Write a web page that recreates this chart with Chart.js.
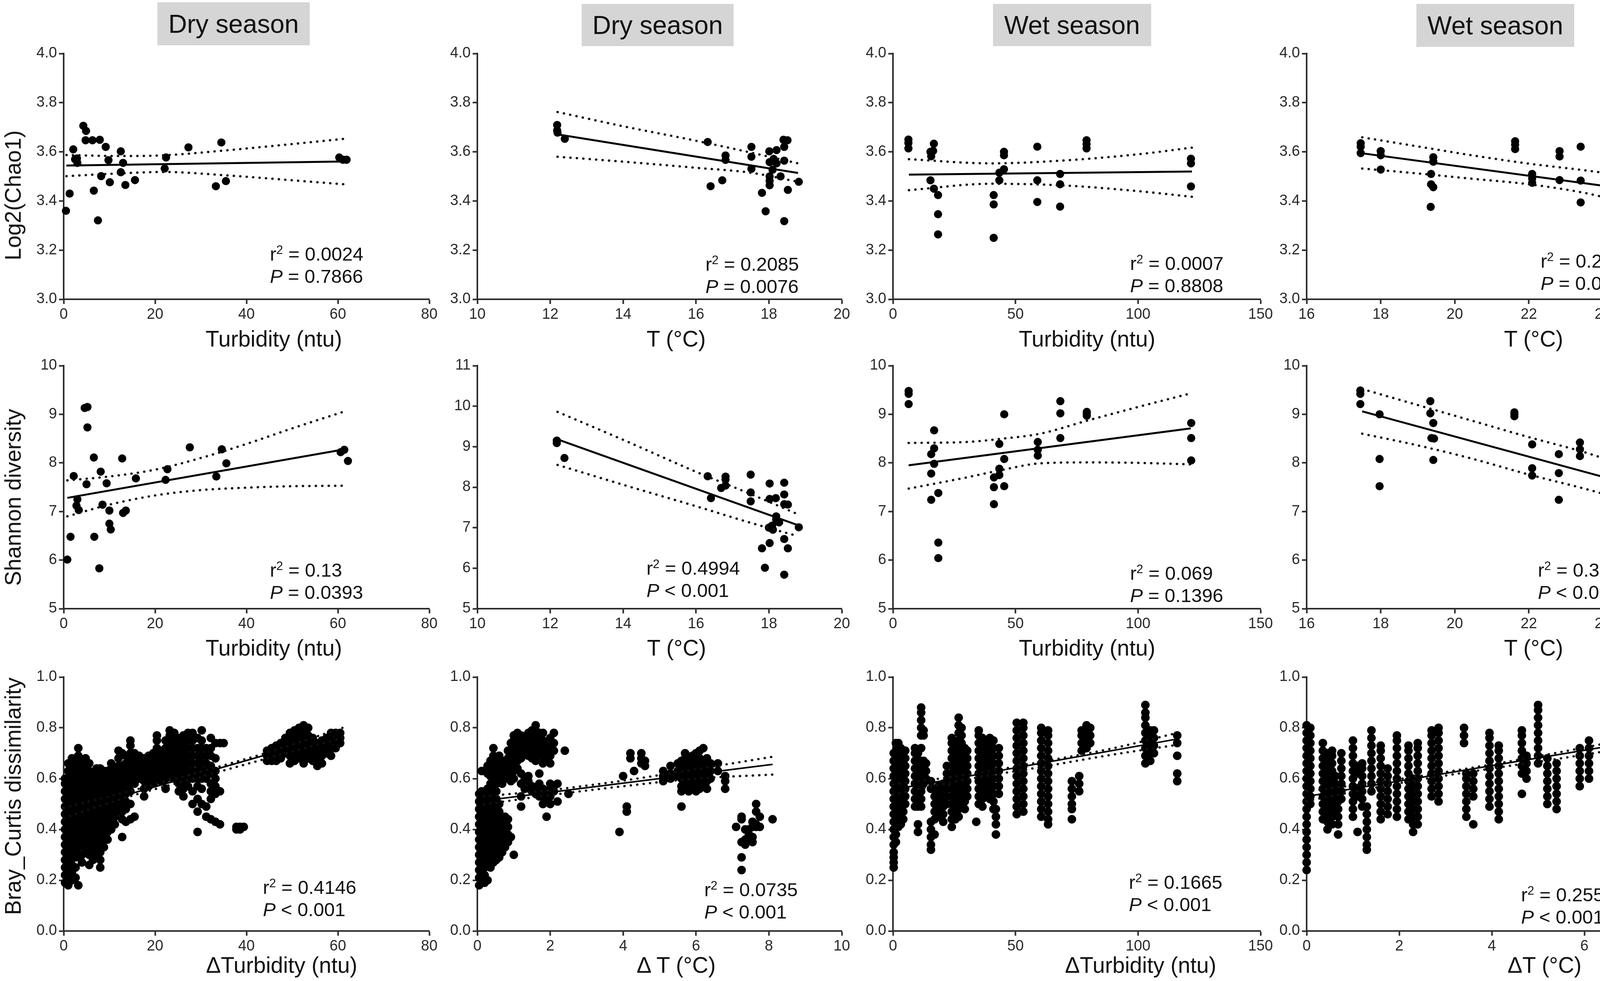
<!DOCTYPE html>
<html>
<head>
<meta charset="utf-8">
<title>Diversity vs turbidity and temperature</title>
<script src="https://cdn.jsdelivr.net/npm/chart.js@4.4.1/dist/chart.umd.min.js"></script>
<style>
  body { margin: 0; background: #fff; }
  #page { position: relative; width: 4328px; height: 2511px; overflow: hidden;
          font-family: "Liberation Sans", Arial, sans-serif; color: #111; }
  canvas { position: absolute; }
  .season { position: absolute; background: #d5d5d5; font-size: 66px; text-align: center; }
  .xt { position: absolute; font-size: 57px; white-space: nowrap; transform: translate(-50%, -50%); }
  .yt { position: absolute; font-size: 57px; white-space: nowrap; transform: translate(-50%, -50%) rotate(-90deg); }
  .stat { position: absolute; font-size: 49px; line-height: 57px; white-space: nowrap; }
  .stat sup { font-size: 31px; line-height: 0; }
</style>
</head>
<body>
<div id="page"></div>
<script>
// ---------- data ----------
// row 1: Log2(Chao1)
const chaoDryTurbX = [0.5,1.3,2.1,2.5,2.9,3.0,4.3,4.9,4.8,6.3,7.9,6.6,7.5,8.2,9.2,9.8,10.1,12.5,12.5,13.0,13.5,15.6,22.1,22.4,27.3,33.3,34.5,35.5,60.3,61.1,61.9];
const chaoDryTurbY = [3.36,3.43,3.61,3.57,3.573,3.555,3.706,3.685,3.647,3.647,3.649,3.442,3.321,3.501,3.62,3.566,3.476,3.602,3.517,3.555,3.465,3.485,3.532,3.577,3.618,3.46,3.638,3.481,3.577,3.568,3.568];
const chaoDryTempX = [12.19,12.19,12.2,12.4,16.32,16.4,16.72,16.81,16.81,17.52,17.52,17.52,17.81,17.91,18.01,18.02,18.02,18.02,18.1,18.13,18.21,18.21,18.32,18.42,18.42,18.4,18.51,18.42,18.52,18.82,18.02];
const chaoDryTempY = [3.709,3.687,3.678,3.653,3.64,3.46,3.484,3.585,3.567,3.62,3.58,3.531,3.433,3.358,3.602,3.558,3.482,3.464,3.527,3.571,3.607,3.553,3.5,3.62,3.564,3.649,3.647,3.318,3.445,3.478,3.5];
const chaoWetTurbX = [6.3,6.3,6.3,15.3,15.6,16.4,16.7,15.3,16.7,18.4,18.4,18.4,41.1,41.1,41.1,43.4,43.4,45.3,45.3,45.3,58.9,58.9,58.9,68.2,68.2,68.2,79,79,79,121.6,121.6,121.6];
const chaoWetTurbY = [3.65,3.636,3.614,3.6,3.582,3.604,3.633,3.484,3.45,3.424,3.346,3.264,3.424,3.386,3.25,3.515,3.484,3.6,3.586,3.529,3.621,3.484,3.396,3.51,3.468,3.377,3.647,3.631,3.614,3.572,3.553,3.459];
const chaoWetTempX = [17.46,17.46,17.46,18,18,18,19.36,19.36,19.42,19.35,19.42,19.42,21.63,21.63,21.63,22.09,22.09,22.09,22.83,22.83,22.83,23.4,23.4,23.4,24.07,24.07,24.07,24.46,24.51,24.44,24.46,24.53];
const chaoWetTempY = [3.635,3.621,3.595,3.603,3.586,3.528,3.51,3.468,3.456,3.376,3.578,3.56,3.643,3.629,3.611,3.51,3.492,3.474,3.603,3.581,3.485,3.621,3.483,3.394,3.634,3.605,3.452,3.425,3.39,3.345,3.265,3.25];

// row 2: Shannon diversity
const shanDryTurbX = [0.8,1.5,2.2,3.0,2.8,3.3,4.6,5.2,5.2,5.0,6.6,6.7,7.8,8.1,8.5,9.4,10.0,10.0,10.3,12.8,13.0,13.6,15.8,22.3,22.7,27.6,33.4,34.6,35.6,60.6,61.4,62.2];
const shanDryTurbY = [6.01,6.48,7.73,7.25,7.12,7.03,9.13,9.15,8.73,7.56,8.11,6.48,5.83,7.82,7.14,7.58,7.02,6.75,6.63,8.09,6.97,7.02,7.68,7.65,7.87,8.32,7.72,8.28,7.99,8.22,8.27,8.04];
const shanDryTempX = [12.18,12.18,12.39,16.32,16.41,16.69,16.81,16.81,16.81,17.5,17.5,17.5,17.81,17.89,18.02,18.02,18.02,18.0,18.09,18.11,18.2,18.2,18.19,18.28,18.42,18.42,18.42,18.42,18.42,18.52,18.52,18.82,18.06];
const shanDryTempY = [9.15,9.09,8.72,8.27,7.73,7.98,8.26,8.04,8.19,8.31,7.87,7.65,6.49,6.01,8.09,7.71,6.62,7.0,7.05,6.95,7.2,7.28,7.73,7.13,8.11,7.82,7.58,6.72,5.84,7.57,6.49,7.01,7.03];
const shanWetTurbX = [6.4,6.4,6.4,16.8,16.8,15.6,16.8,15.6,15.6,18.5,18.5,18.5,41.2,41.2,41.2,43.4,43.4,43.4,45.4,45.4,45.4,59.1,59.1,59.1,68.3,68.3,68.3,79.1,79.1,79.1,121.7,121.7,121.7];
const shanWetTurbY = [9.48,9.42,9.21,8.67,8.3,8.18,7.98,7.78,7.24,7.38,6.36,6.04,7.7,7.5,7.15,8.39,7.88,7.75,9.0,8.08,7.52,8.43,8.27,8.15,9.27,9.02,8.51,9.05,8.97,9.01,8.82,8.51,8.05];
const shanWetTempX = [17.45,17.45,17.45,17.97,17.97,17.97,19.34,19.34,19.42,19.37,19.44,19.42,21.61,21.61,21.61,22.09,22.09,22.09,22.81,22.81,22.81,23.38,23.38,23.38,24.06,24.06,24.06,24.47,24.47,24.41,24.47,24.41,24.41];
const shanWetTempY = [9.49,9.42,9.21,9.0,8.08,7.52,9.27,9.02,8.82,8.51,8.5,8.06,9.04,8.96,9.0,8.38,7.89,7.74,8.18,7.79,7.24,8.42,8.28,8.14,8.66,8.3,7.97,7.69,7.48,7.38,7.15,6.35,6.04];

// row 3: Bray_Curtis dissimilarity, one entry per column of dots: [x, y*100 ...]
const bcDryTurb = [
  [0.3,19,22,25,28,31,34,37,40,43,46,49,52,55,58,60],
  [1.0,18,21,24,27,30,33,36,39,42,45,48,51,54,57,60,63,66],
  [1.8,20,23,26,29,32,35,38,41,44,47,50,53,56,59,62,65,68],
  [2.6,21,25,29,32,35,38,41,44,47,50,53,56,59,62,65,68],
  [3.2,18,30,33,36,39,42,45,48,51,54,57,60,63,66,69,72],
  [4.0,27,30,34,37,40,43,46,49,52,55,58,61,64,67],
  [4.8,32,35,38,41,44,47,50,53,56,59,62,65,68],
  [5.6,26,30,33,36,39,42,45,48,51,54,57,60,63,66],
  [6.4,28,31,34,37,40,43,46,49,52,55,58,61],
  [7.2,29,32,35,38,41,44,47,50,53,56,59,62,64],
  [8.0,25,28,31,34,37,40,43,46,49,52,55,58,61,64],
  [8.8,33,36,39,42,45,48,51,54,57,60,63],
  [9.6,36,39,42,45,48,51,54,57,60,63],
  [10.4,40,43,46,49,52,55,58,61,64,66],
  [11.2,42,45,48,51,54,57,60,63],
  [12.0,47,50,53,56,59,62,65,68,71],
  [12.8,37,44,47,50,53,56,59,62,65,70],
  [13.6,43,48,51,54,57,60,63,66,69],
  [14.6,44,50,55,58,61,64,67,70,73,75],
  [15.5,45,58,61,64,67,70],
  [16.5,60,63,66,69],
  [17.6,53,56,59,62,65,68],
  [18.6,57,60,63,66,69],
  [19.6,58,61,64,67,70],
  [20.4,60,63,66,69,72,75,77],
  [21.4,59,62,65,68,71],
  [22.3,56,60,63,66,69,72,75],
  [23.2,62,65,68,71,74,77,79],
  [24.2,60,63,66,69,72,75,78],
  [25.2,55,58,61,64,67,70,73,76],
  [26.2,53,56,59,62,65,68,71,74,77],
  [27.2,57,60,63,66,69,72,75,78],
  [28.2,50,55,60,63,66,69,72,75,78],
  [29.3,39,47,52,57,60,63,66,69,72,76],
  [30.2,50,56,60,63,66,69,72,75,79],
  [31.2,45,49,60,63,66,69,72],
  [32.2,44,52,55,58,62,65,69,72,76],
  [33.2,43,54,57,60,63,68,74],
  [34.2,42,55,74],
  [35.0,74],
  [37.8,40,41],
  [38.6,40,41],
  [39.4,41],
  [44.5,67,69,71],
  [45.5,67,69,72],
  [46.5,67,70,73],
  [47.5,68,71,74],
  [48.5,70,73,76],
  [49.5,66,69,72,75,78],
  [50.5,67,70,73,76,79],
  [51.5,68,71,74,77,80],
  [52.5,66,69,72,75,78,81],
  [53.5,68,71,74,77,80],
  [54.5,67,70,73,76],
  [55.5,65,68,71,74],
  [56.5,66,69,72,75],
  [57.5,70,73,76],
  [58.5,69,72,75,78],
  [59.5,72,75,78],
  [60.5,74,76,78]
];
const bcDryTemp = [
  [0.05,18,21,24,27,30,33,36,39,42,45,48,51,54],
  [0.12,20,23,26,29,32,35,38,41,44,47,50,53,55,63],
  [0.2,19,22,25,28,31,34,37,40,43,46,49,52],
  [0.28,20,26,29,32,35,38,41,44,47,50,53,56,62,65],
  [0.36,25,28,31,34,37,40,43,46,49,52,55,58,61,64,67],
  [0.44,27,30,33,36,39,42,45,48,51,54,57,60,63,66,69,72],
  [0.52,28,31,34,37,40,43,46,49,52,55,58,61,64,67],
  [0.6,29,32,35,38,41,44,47,50,60,63,66,69],
  [0.68,31,34,37,40,43,58,61,64,67],
  [0.76,33,36,39,42,45,60,63,66],
  [0.84,35,38,41,44,62,65,68,71],
  [0.92,37,59,62,65,68,71,74],
  [1.0,30,60,63,66,69,72,75,77],
  [1.1,64,67,70,73,76,78],
  [1.2,49,53,58,62,68,71,74,77],
  [1.3,56,60,70,73,76],
  [1.4,59,61,69,72,75,78],
  [1.5,55,57,68,71,74,77,79],
  [1.6,54,56,67,70,73,76,79,81],
  [1.7,53,55,58,62,69,72,75,78],
  [1.8,50,53,56,66,69,72,75,78],
  [1.9,45,52,55,67,70,73],
  [2.0,50,53,56,58,66,69,72,76],
  [2.1,55,57,71,74,78],
  [2.2,51,58],
  [2.4,71],
  [2.5,54],
  [3.9,39],
  [4.0,61],
  [4.1,47,49],
  [4.2,68,70],
  [4.3,63],
  [4.5,66,68,70],
  [4.6,65,67],
  [5.1,59,61,63],
  [5.3,60,62,65],
  [5.5,61,63,66],
  [5.6,49,55,57,60,64,67],
  [5.7,56,59,62,65,68,70],
  [5.8,55,58,61,64,67],
  [5.9,57,60,63,66,69],
  [6.0,55,58,61,64,67,70],
  [6.1,56,59,62,65,68,71],
  [6.2,57,60,63,66,72],
  [6.3,56,59,62,65,68],
  [6.4,60,63,66],
  [6.6,63,66],
  [6.8,56,59,61],
  [7.1,41],
  [7.25,24,29,35,44,45],
  [7.35,34,36,40],
  [7.45,38,40],
  [7.55,35,37,41,43],
  [7.65,41,42,47,50],
  [7.75,41,45],
  [8.1,44]
];
const bcWetTurb = [
  [0.3,25,27,29,31,34,37,40,43,46,49,52,55,58,61,64,67,70],
  [1.2,35,38,41,44,47,50,53,56,59,62,65,68,71,74],
  [2.2,41,44,47,50,53,56,59,62,65,68,71,74],
  [3.2,42,45,48,51,54,57,60,63,66,69,72],
  [4.2,44,47,50,53,56,59,62,65,68,71],
  [5.0,50,53,56,59,62,65,68,71],
  [9.0,49,52,55,58,61,64,67,70,72],
  [10.2,39,42,49,52,55,58,61,64,67,70],
  [11.5,49,52,55,58,61,64,67,72,77,80,83,86,88],
  [12.5,58,61,64,67,77,79],
  [13.5,60,63,66],
  [15.5,32,34,37,40,43,56,59],
  [17.0,38,44,47,50,53,56],
  [18.5,45,48,51,54,57],
  [20.5,43,46,49,52,55,58],
  [22.0,50,53,56,59,62,65],
  [24.0,41,44,47,50,53,56,59,62,65,68,71,74,76],
  [25.5,44,47,50,53,56,59,62,65,68,71,74],
  [26.8,45,48,51,54,57,60,63,66,69,72,75,78,81,84],
  [28.0,50,53,56,59,62,65,68,71,74,77,80],
  [29.3,48,51,54,57,60,63,66,69,72],
  [30.3,53,56,59,62,65,68,71],
  [34.0,43],
  [35.0,50,53,56,59,62,65,68,71,74,77,79],
  [36.5,49,52,55,58,61,64,67,70,73,76],
  [38.0,53,56,59,62,65,68,71,74],
  [39.5,52,55,58,61,64,67,70,73,76],
  [41.0,48,51,54,57,60,63,66,69,72,75],
  [42.0,38,42,45,48],
  [43.2,54,57,60,63,66,69,72],
  [50.5,46,49,52,55,58,61,64,67,70,73,76,79,82],
  [53.2,47,50,53,56,59,62,65,68,71,74,77,80,82],
  [60.5,45,48,51,54,57,60,63,66,69,72,75,78,80],
  [63.3,42,44,47,50,53,56,59,62,65,68,71,74,77,79],
  [73.0,44,48,50,53,56,59],
  [76.0,55,58,61],
  [77.0,71,74,77,79],
  [79.0,72,75,78,81],
  [80.5,74,77,80],
  [103.0,66,69,72,75,78,81,84,86,89],
  [105.0,67,70,73,76,79],
  [106.5,70,73,76,79],
  [116.0,59,62,69,74,77]
];
const bcWetTemp = [
  [0.0,24,27,30,33,36,39,42,45,48,51,54,57,60,63,66,69,72,75,78,81],
  [0.08,50,53,56,59,62,65,68,71,74,77,80],
  [0.35,44,47,50,53,56,59,62,65,68,71,74],
  [0.45,40,43,46,49,52,55,58,61,64,67,70],
  [0.55,42,45,48,51,54,57,60,63,66,69,71],
  [0.62,46,49,52,55,58,61],
  [0.68,38,42,45,48,51,54,57],
  [0.75,52,55,58,61,64,67,70],
  [1.0,45,48,51,54,57,60,63,66,69,72,75],
  [1.1,39,53,56,62,65],
  [1.2,49,52,55,58,61,64,66],
  [1.3,32,34,37,40,43,46,49],
  [1.4,55,58,61,64,67,70,73,76,79],
  [1.6,44,47,50,53,56,59,62,65,68,71,73],
  [1.75,46,49,52,55,58,61,64],
  [1.95,45,48,51,54,57,60,63,66,69,72,75,77],
  [2.2,44,47,50,53,56,59,62,65,68,71,73],
  [2.3,39,42,45,48,51,54,57,60],
  [2.4,42,45,48,51,54,57,60,63,66,69,72,74],
  [2.7,53,56,59,62,65,68,71,74,77,79],
  [2.85,51,54,57,60,63,66,69,72,75,78,80],
  [3.4,74,77,80],
  [3.45,45,48,51,54,57,60,62],
  [3.6,42,53,56,59,62],
  [3.95,49,52,55,58,61,64,67,70,73,76,78],
  [4.15,44,47,50,53,56,59,62,65,68,71,73],
  [4.65,54,62,65,68,71,74,77,79],
  [4.75,60,63,66,69],
  [5.0,66,69,72,75,78,81,84,87,89],
  [5.2,50,53,56,59,62,65,68],
  [5.4,48,51,54,57,60,63,66],
  [5.9,57,60,63,66,69,72],
  [6.1,60,63,66,69,72,75],
  [6.5,64,67,70,73,76,79,82],
  [6.6,57,60,63,66,69,72,75,78,80],
  [7.0,66,69,72,75,78,81,84,87]
];

// regression lines [xStart, xEnd], [yStart, yEnd]
const fitX = [[0.6,62],[12.2,18.8],[6.5,122],[17.5,24.5],[0.8,61.5],[12.2,18.8],[6.4,121.5],[17.5,24.5],[0,61],[0,8.1],[0,116],[0,7]];
const fitY = [[3.544,3.561],[3.671,3.514],[3.507,3.52],[3.594,3.452],[7.28,8.28],[9.18,7.06],[7.95,8.71],[9.06,7.61],[0.465,0.78],[0.51,0.656],[0.557,0.756],[0.53,0.742]];
// 95% confidence band, read at a few x positions
const bandX = [
  [0.6,12,22,35,48,62],
  [12.2,14,16,17.5,18.8],
  [6.5,40,70,100,122],
  [17.5,19,20.5,22,23.5,24.5],
  [0.8,10,20,30,40,50,61.5],
  [12.2,14,16,17.5,18.8],
  [6.4,30,45,60,80,100,121.5],
  [17.5,19,20.5,22,23.5,24.5],
  [0,15,30,45,61],
  [0,2,4,6,8.1],
  [0,30,60,90,116],
  [0,2,4,5.5,7]
];
const bandHi = [
  [3.587,3.583,3.586,3.605,3.628,3.654],
  [3.762,3.704,3.645,3.597,3.553],
  [3.57,3.553,3.565,3.59,3.617],
  [3.659,3.622,3.585,3.552,3.525,3.505],
  [7.64,7.72,7.86,8.1,8.39,8.71,9.06],
  [9.86,9.17,8.38,7.83,7.33],
  [8.41,8.43,8.5,8.6,8.88,9.15,9.43],
  [9.52,9.19,8.86,8.53,8.22,7.97],
  [0.485,0.553,0.627,0.705,0.8],
  [0.528,0.555,0.592,0.637,0.686],
  [0.577,0.615,0.665,0.72,0.78],
  [0.55,0.598,0.656,0.705,0.758]
];
const bandLo = [
  [3.501,3.512,3.518,3.505,3.487,3.467],
  [3.58,3.56,3.535,3.515,3.478],
  [3.444,3.47,3.463,3.44,3.417],
  [3.532,3.512,3.49,3.468,3.433,3.398],
  [6.9,7.14,7.33,7.44,7.49,7.52,7.53],
  [8.55,8.06,7.53,7.12,6.79],
  [7.47,7.7,7.86,7.99,8.01,8.0,7.97],
  [8.6,8.36,8.08,7.76,7.47,7.26],
  [0.445,0.533,0.607,0.682,0.76],
  [0.495,0.535,0.57,0.6,0.616],
  [0.537,0.597,0.645,0.695,0.733],
  [0.512,0.582,0.64,0.68,0.724]
];

const r2Text = ['0.0024','0.2085','0.0007','0.2275','0.13','0.4994','0.069','0.3984','0.4146','0.0735','0.1665','0.2557'];
const pText = ['= 0.7866','= 0.0076','= 0.8808','= 0.005','= 0.0393','< 0.001','= 0.1396','< 0.001','< 0.001','< 0.001','< 0.001','< 0.001'];

const seasons = ['Dry season','Dry season','Wet season','Wet season'];
const yTitles = ['Log2(Chao1)','Shannon diversity','Bray_Curtis dissimilarity'];
const xTitles = ['Turbidity (ntu)','T (°C)','Turbidity (ntu)','T (°C)',
                 'Turbidity (ntu)','T (°C)','Turbidity (ntu)','T (°C)',
                 'ΔTurbidity (ntu)','Δ T (°C)','ΔTurbidity (ntu)','ΔT (°C)'];

// axis ranges [min, max, step]
const xRange = [[0,80,20],[10,20,2],[0,150,50],[16,26,2]];
const xRangeBottom = [[0,80,20],[0,10,2],[0,150,50],[0,8,2]];
const yRange = [[3,4,0.2,1],[5,10,1,0],[0,1,0.2,1]];

// ---------- layout ----------
const colL = [163, 1222, 2286, 3345];
const colR = [1099, 2155, 3227, 4293];
const rowT = [137, 936, 1733];
const rowB = [766, 1558, 2383];
const PAD_L = 130, PAD_T = 40, PAD_R = 60, PAD_B = 90;

const seasonBox = [[403,6,390,110],[1489,10,389,108],[2542,10,405,108],[3626,10,404,110]];
const yTitlePos = [[33,500],[33,1273],[33,2038]];
const xTitleCx = [701,1731,2783,3926, 701,1732,2783,3926, 721,1731,2920,3954];
const xTitleCy = [867,1658,2470];
const statPos = [[691,650],[1806,676],[2893,674],[3944,668],
                 [691,1459],[1655,1454],[2893,1467],[3937,1459],
                 [673,2271],[1803,2277],[2890,2258],[3894,2290]];

Chart.defaults.font.family = '"Liberation Sans", Arial, sans-serif';
const page = document.getElementById('page');

function zip(xs, ys) {
  return xs.map((x, i) => ({x: x, y: ys[i]}));
}
function columns(cols) {
  const out = [];
  cols.forEach(c => { for (let k = 1; k < c.length; k++) out.push({x: c[0], y: c[k] / 100}); });
  return out;
}

const points = [
  zip(chaoDryTurbX, chaoDryTurbY), zip(chaoDryTempX, chaoDryTempY),
  zip(chaoWetTurbX, chaoWetTurbY), zip(chaoWetTempX, chaoWetTempY),
  zip(shanDryTurbX, shanDryTurbY), zip(shanDryTempX, shanDryTempY),
  zip(shanWetTurbX, shanWetTurbY), zip(shanWetTempX, shanWetTempY),
  columns(bcDryTurb), columns(bcDryTemp), columns(bcWetTurb), columns(bcWetTemp)
];

function axisOpts(pos, min, max, step, dec, size) {
  return {
    type: 'linear', position: pos, min: min, max: max,
    afterFit: s => { if (pos === 'left') s.width = size; else s.height = size; },
    ticks: {
      stepSize: step, autoSkip: false, maxRotation: 0, color: '#2a2a2a', padding: 5,
      font: {size: 38}, callback: v => v.toFixed(dec)
    },
    grid: { drawOnChartArea: false, drawTicks: true, tickLength: 12, tickWidth: 4, tickColor: '#2b2b2b' },
    border: { color: '#2b2b2b', width: 4 }
  };
}

function dotted(data) {
  return {
    type: 'scatter', data: data, showLine: true, order: 1,
    borderColor: '#111', borderWidth: 6, borderDash: [0.5, 16], borderCapStyle: 'round',
    pointRadius: 0, cubicInterpolationMode: 'monotone', clip: false
  };
}

function addDiv(cls, html, css) {
  const d = document.createElement('div');
  d.className = cls;
  d.innerHTML = html;
  Object.assign(d.style, css);
  page.appendChild(d);
}

for (let i = 0; i < 12; i++) {
  const row = Math.floor(i / 4), col = i % 4;
  const L = colL[col], R = colR[col], T = rowT[row], B = rowB[row];
  const w = R - L + PAD_L + PAD_R, h = B - T + PAD_T + PAD_B;
  const cv = document.createElement('canvas');
  cv.width = w; cv.height = h;
  cv.style.left = (L - PAD_L) + 'px'; cv.style.top = (T - PAD_T) + 'px';
  cv.style.width = w + 'px'; cv.style.height = h + 'px';
  page.appendChild(cv);

  const xr = row === 2 ? xRangeBottom[col] : xRange[col];
  const yr = yRange[row].slice();
  if (i === 5) yr[1] = 11;   // dry-season temperature panel runs to 11
  const xDec = xr[2] < 1 ? 1 : 0;

  new Chart(cv, {
    type: 'scatter',
    data: {
      datasets: [
        {
          type: 'scatter', data: zip(fitX[i], fitY[i]), showLine: true, order: 0,
          borderColor: '#000', borderWidth: row === 2 ? 4 : 5, pointRadius: 0
        },
        dotted(zip(bandX[i], bandHi[i])),
        dotted(zip(bandX[i], bandLo[i])),
        {
          type: 'scatter', data: points[i], order: 2,
          pointRadius: row === 2 ? 11 : 10.5, pointHoverRadius: 10, backgroundColor: '#000',
          borderWidth: 0, clip: false
        }
      ]
    },
    options: {
      responsive: false, animation: false, devicePixelRatio: 1,
      layout: { padding: { top: PAD_T, right: PAD_R, left: 0, bottom: 0 } },
      plugins: { legend: { display: false }, tooltip: { enabled: false } },
      scales: {
        x: axisOpts('bottom', xr[0], xr[1], xr[2], xDec, PAD_B),
        y: axisOpts('left', yr[0], yr[1], yr[2], yr[3], PAD_L)
      }
    }
  });

  addDiv('xt', xTitles[i], { left: xTitleCx[i] + 'px', top: xTitleCy[row] + 'px' });
  addDiv('stat', 'r<sup>2</sup> = ' + r2Text[i] + '<br><i>P</i> ' + pText[i],
         { left: statPos[i][0] + 'px', top: (statPos[i][1] - 28) + 'px' });
}

seasons.forEach((s, k) => {
  const b = seasonBox[k];
  addDiv('season', s, { left: b[0] + 'px', top: b[1] + 'px', width: b[2] + 'px',
                        height: b[3] + 'px', lineHeight: b[3] + 'px' });
});
yTitles.forEach((t, k) => {
  addDiv('yt', t, { left: yTitlePos[k][0] + 'px', top: yTitlePos[k][1] + 'px' });
});
</script>
</body>
</html>
